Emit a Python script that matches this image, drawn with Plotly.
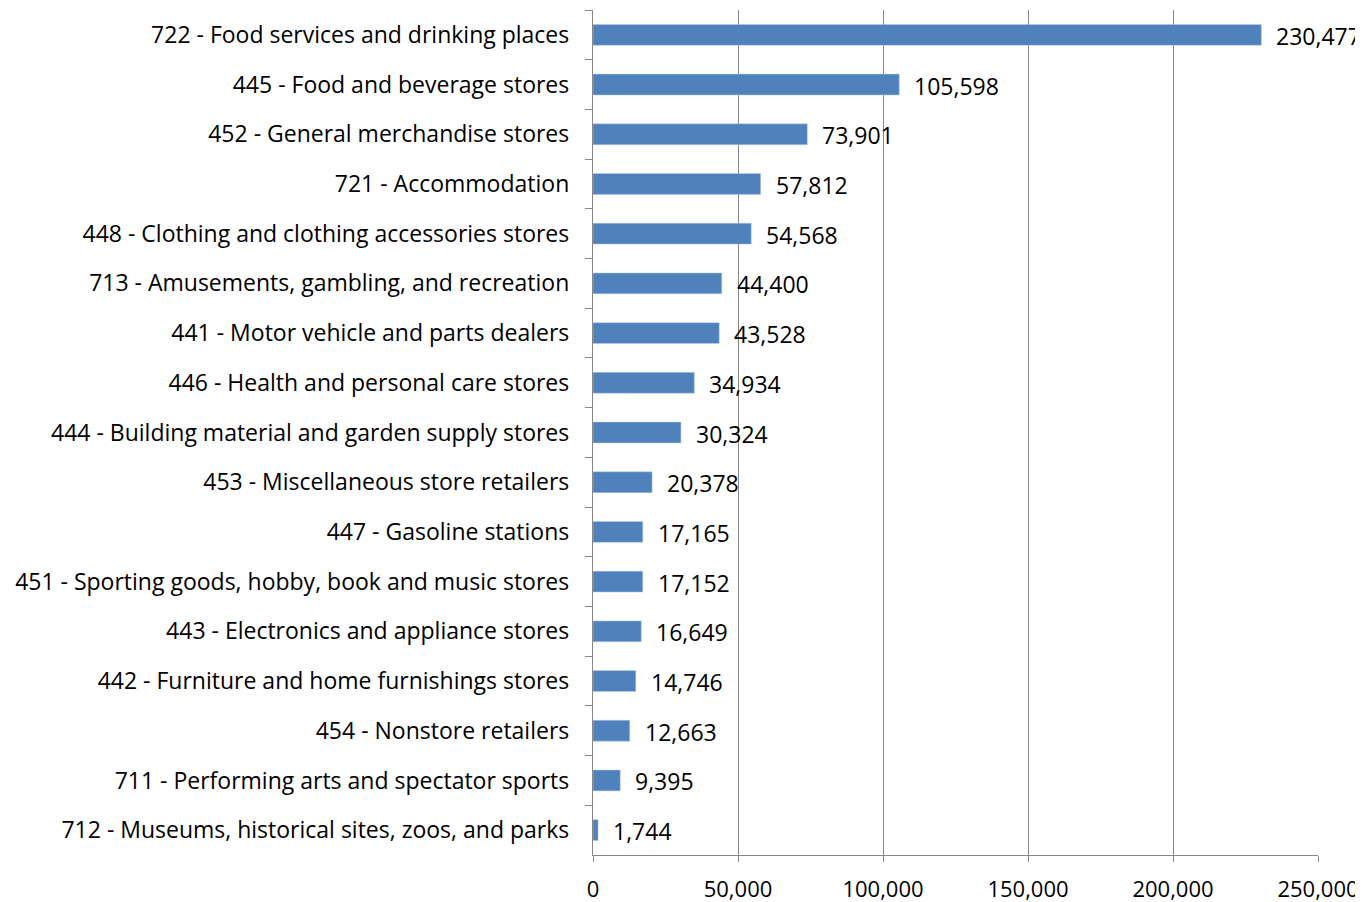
import plotly.graph_objects as go

# Data (top to bottom as shown)
categories = [
    "722 - Food services and drinking places",
    "445 - Food and beverage stores",
    "452 - General merchandise stores",
    "721 - Accommodation",
    "448 - Clothing and clothing accessories stores",
    "713 - Amusements, gambling, and recreation",
    "441 - Motor vehicle and parts dealers",
    "446 - Health and personal care stores",
    "444 - Building material and garden supply stores",
    "453 - Miscellaneous store retailers",
    "447 - Gasoline stations",
    "451 - Sporting goods, hobby, book and music stores",
    "443 - Electronics and appliance stores",
    "442 - Furniture and home furnishings stores",
    "454 - Nonstore retailers",
    "711 - Performing arts and spectator sports",
    "712 - Museums, historical sites, zoos, and parks",
]
values = [230477, 105598, 73901, 57812, 54568, 44400, 43528, 34934, 30324,
          20378, 17165, 17152, 16649, 14746, 12663, 9395, 1744]
x_ticks = [0, 50000, 100000, 150000, 200000, 250000]

_BAR = "#4F81BD"
_GRID = "#878787"
_FONT = dict(family="Open Sans, Calibri, sans-serif", size=23, color="#000000")

fig = go.Figure()
fig.add_trace(go.Bar(
    x=values,
    y=categories,
    orientation="h",
    width=0.42,
    marker=dict(color=_BAR, line=dict(color="#B9CDE5", width=0.5)),
    cliponaxis=False,
    hoverinfo="skip",
))

for c, v in zip(categories, values):
    fig.add_annotation(
        x=v, y=c, text=f"{v:,}",
        xanchor="left", yanchor="middle", xshift=13, yshift=-1,
        showarrow=False, font=_FONT,
    )

# page body adds an 8px offset, so the figure is 8px smaller than the window
fig.update_layout(
    width=1355, height=894,
    paper_bgcolor="white", plot_bgcolor="white",
    font=_FONT,
    margin=dict(l=585, r=45, t=2, b=47, autoexpand=False),
    showlegend=False,
    bargap=0.58,
    xaxis=dict(
        range=[0, 250000],
        tickvals=x_ticks,
        ticktext=[f"{t:,}" for t in x_ticks],
        showgrid=True, gridcolor=_GRID, gridwidth=1.3,
        showline=True, linecolor=_GRID, linewidth=1.3,
        ticks="outside", ticklen=6, tickcolor=_GRID, tickwidth=1.3,
        zeroline=False, automargin=False,
        ticklabeloverflow="allow",
        ticklabelstandoff=8,
        tickfont=dict(_FONT, size=22),
    ),
    yaxis=dict(
        autorange="reversed",
        categoryorder="array", categoryarray=categories,
        showline=True, linecolor=_GRID, linewidth=1.3,
        ticks="outside", ticklen=7, tickcolor=_GRID, tickwidth=1.3,
        tickson="boundaries",
        ticklabelstandoff=18,
        showgrid=False, zeroline=False, automargin=False,
        tickfont=_FONT,
    ),
)

fig.write_html("out.html")
